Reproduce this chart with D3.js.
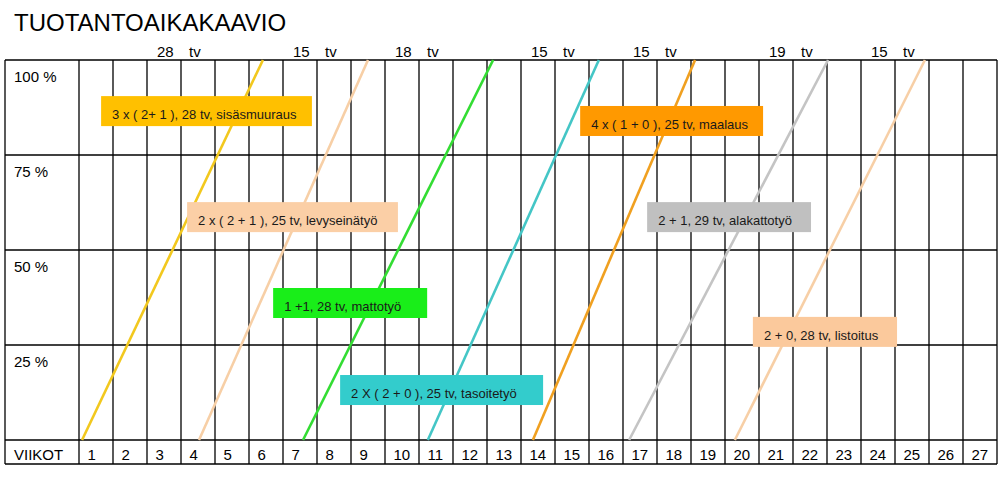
<!DOCTYPE html>
<html>
<head>
<meta charset="utf-8">
<script src="https://cdn.jsdelivr.net/npm/d3@7"></script>
<style>
  html, body { margin: 0; padding: 0; background: #fff; }
  svg { display: block; font-family: "Liberation Sans", Arial, sans-serif; }
</style>
</head>
<body>
<svg id="chart" width="1003" height="481"></svg>
<script>
// ---- data ----
const title = "TUOTANTOAIKAKAAVIO";
const weeks = d3.range(1, 28);                       // VIIKOT 1..27
const percentTicks = [100, 75, 50, 25];
const percentLabels = ["100 %", "75 %", "50 %", "25 %"];
const headerWeeks = [3, 7, 10, 14, 17, 21, 24];
const headerDays  = [28, 15, 18, 15, 15, 19, 15];

// tasks: start / end in weeks (0 = start of week 1), rising 0 % -> 100 %
const taskNames  = ["sisäsmuuraus", "levyseinätyö", "mattotyö", "tasoitetyö", "maalaus", "alakattotyö", "listoitus"];
const taskStart  = [0.09, 3.53, 6.59, 10.26, 13.35, 16.18, 19.29];
const taskEnd    = [5.41, 8.50, 12.18, 15.29, 18.12, 22.03, 24.88];
const taskLabels = [
  "3 x ( 2+ 1 ), 28 tv, sisäsmuuraus",
  "2 x ( 2 + 1 ), 25 tv, levyseinätyö",
  "1 +1, 28 tv, mattotyö",
  "2 X ( 2 + 0 ), 25 tv, tasoitetyö",
  "4 x ( 1 + 0 ), 25 tv, maalaus",
  "2 + 1, 29 tv, alakattotyö",
  "2 + 0, 28 tv, listoitus"
];

// ---- styles / layout ----
const lineColors = ["#f2c81e", "#f7cfa6", "#33dd33", "#44c6c6", "#f0a020", "#c4c4c4", "#f7cfa6"];
const boxColors  = ["#ffc000", "#fbcfa6", "#19ee19", "#33cccc", "#ff9900", "#c0c0c0", "#fbc99c"];
// label box anchors in chart units: [left week, right week, top percent]
const boxLeft  = [0.65, 3.18, 5.71, 7.68, 14.74, 16.71, 19.82];
const boxRight = [6.85, 9.38, 10.24, 13.65, 20.12, 21.53, 24.06];
const boxTop   = [90.5, 62.6, 40.0, 17.1, 87.9, 62.6, 32.4];

const svg = d3.select("#chart");
const x = d3.scaleLinear().domain([0, 27]).range([79, 997]);
const y = d3.scaleLinear().domain([0, 100]).range([440, 60]);
const tableLeft = 5, tableRight = 997, tableBottom = 464;
const gridColor = "#000";

// title
svg.append("text").attr("x", 14).attr("y", 31)
  .attr("font-size", 24).attr("fill", "#000").text(title);

// header day labels
const hdr = svg.append("g").attr("font-size", 15).attr("fill", "#000");
headerWeeks.forEach((w, i) => {
  hdr.append("text").attr("x", x(w - 1) + 10).attr("y", 57).text(headerDays[i]);
  hdr.append("text").attr("x", x(w) + 8).attr("y", 57).text("tv");
});

// grid
const grid = svg.append("g").attr("stroke", gridColor).attr("stroke-width", 1.3).attr("fill", "none");
// horizontal lines
[100, 75, 50, 25, 0].forEach(p => {
  grid.append("line").attr("x1", tableLeft).attr("x2", tableRight).attr("y1", y(p)).attr("y2", y(p));
});
grid.append("line").attr("x1", tableLeft).attr("x2", tableRight).attr("y1", tableBottom).attr("y2", tableBottom);
// vertical lines
grid.append("line").attr("x1", tableLeft).attr("x2", tableLeft).attr("y1", y(100)).attr("y2", tableBottom);
d3.range(0, 28).forEach(k => {
  grid.append("line").attr("x1", x(k)).attr("x2", x(k)).attr("y1", y(100)).attr("y2", tableBottom);
});

// percent labels
const pl = svg.append("g").attr("font-size", 15).attr("fill", "#000");
percentTicks.forEach((p, i) => {
  pl.append("text").attr("x", 14).attr("y", y(p) + 22).text(percentLabels[i]);
});

// week labels
const wl = svg.append("g").attr("font-size", 15).attr("fill", "#000");
wl.append("text").attr("x", 14).attr("y", 460).text("VIIKOT");
weeks.forEach(w => {
  wl.append("text").attr("x", x(w - 1) + 8.5).attr("y", 460).text(w);
});

// task lines
const lines = svg.append("g");
taskNames.forEach((n, i) => {
  lines.append("line")
    .attr("x1", x(taskStart[i])).attr("y1", y(0))
    .attr("x2", x(taskEnd[i])).attr("y2", y(100))
    .attr("stroke", lineColors[i]).attr("stroke-width", 2.6);
});

// label boxes
const boxes = svg.append("g");
taskLabels.forEach((t, i) => {
  const bx = x(boxLeft[i]), bw = x(boxRight[i]) - x(boxLeft[i]), by = y(boxTop[i]);
  boxes.append("rect").attr("x", bx).attr("y", by).attr("width", bw).attr("height", 30)
    .attr("fill", boxColors[i]);
  boxes.append("text").attr("x", bx + 11).attr("y", by + 23)
    .attr("font-size", 13).attr("fill", "#1a1a1a").text(t);
});
</script>
</body>
</html>
